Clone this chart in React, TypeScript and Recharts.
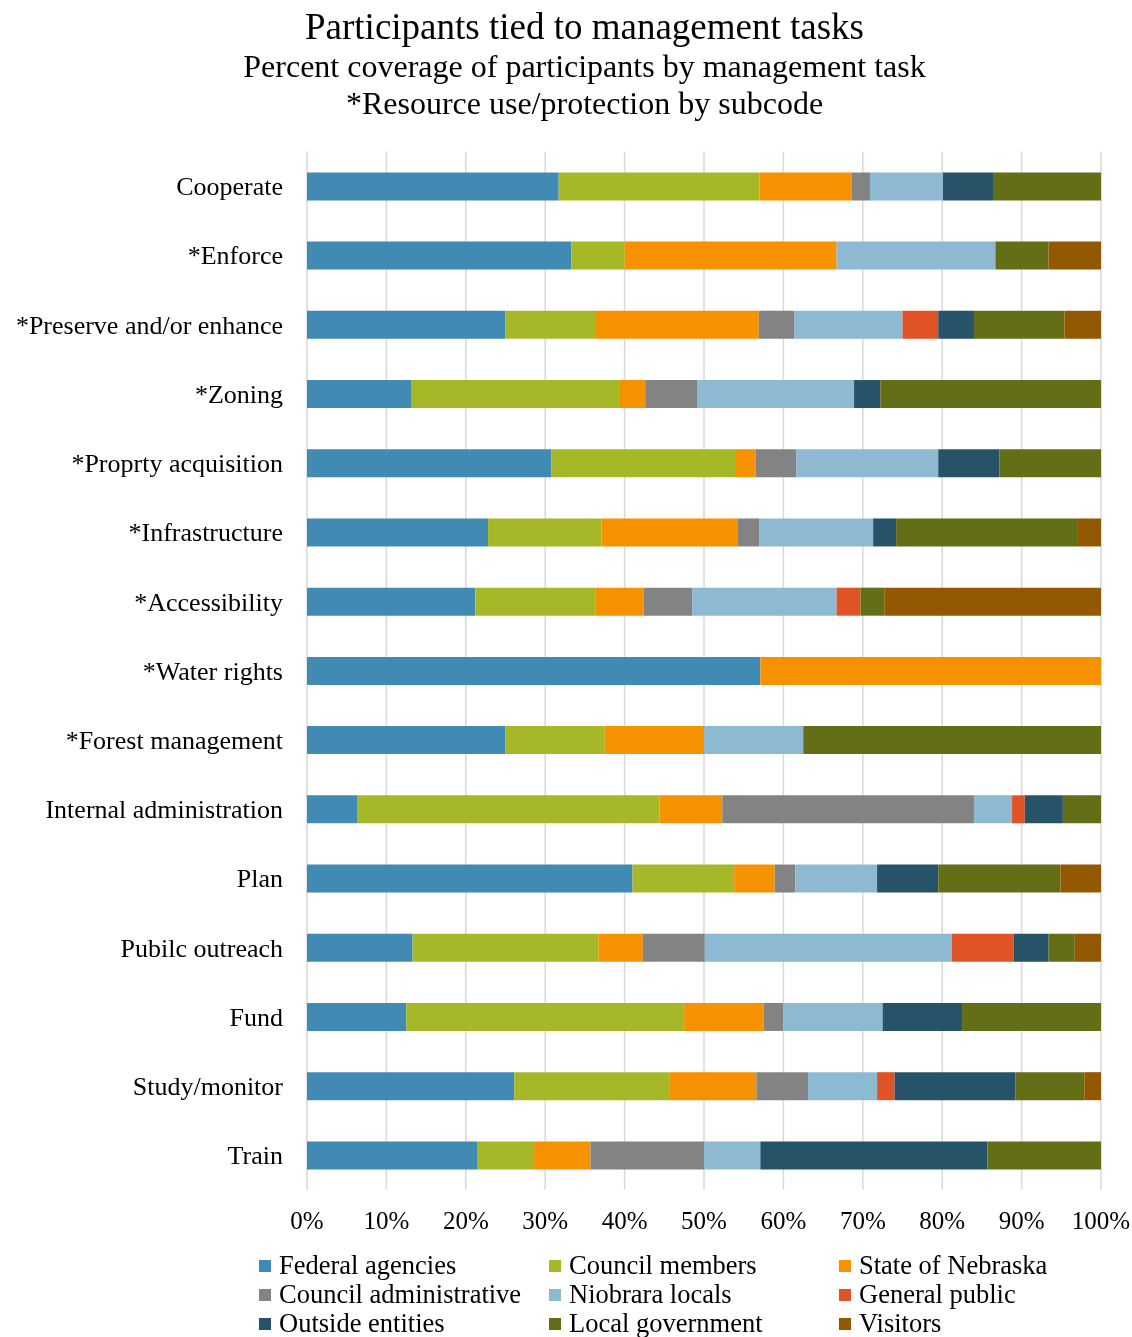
import React from "react";
import { BarChart, Bar, XAxis, YAxis, CartesianGrid } from "recharts";

const TASKS = [
  "Cooperate",
  "*Enforce",
  "*Preserve and/or enhance",
  "*Zoning",
  "*Proprty acquisition",
  "*Infrastructure",
  "*Accessibility",
  "*Water rights",
  "*Forest management",
  "Internal administration",
  "Plan",
  "Pubilc outreach",
  "Fund",
  "Study/monitor",
  "Train",
];

// percent of participants per task
const FEDERAL = [31.7, 33.3, 25.0, 13.1, 30.8, 22.8, 21.2, 57.1, 25.0, 6.3, 41.0, 13.3, 12.5, 26.1, 21.5];
const COUNCIL_MEMBERS = [25.3, 6.7, 11.4, 26.2, 23.1, 14.3, 15.1, 0, 12.5, 38.1, 12.8, 23.4, 35.0, 19.6, 7.1];
const NEBRASKA = [11.6, 26.7, 20.5, 3.3, 2.6, 17.1, 6.1, 42.9, 12.5, 7.9, 5.1, 5.6, 10.0, 10.9, 7.1];
const COUNCIL_ADMIN = [2.3, 0, 4.5, 6.6, 5.1, 2.8, 6.1, 0, 0, 31.7, 2.6, 7.8, 2.5, 6.5, 14.3];
const NIOBRARA = [9.2, 20.0, 13.6, 19.7, 17.9, 14.3, 18.2, 0, 12.5, 4.8, 10.3, 31.1, 12.5, 8.7, 7.1];
const GENERAL_PUBLIC = [0, 0, 4.5, 0, 0, 0, 3.0, 0, 0, 1.6, 0, 7.8, 0, 2.2, 0];
const OUTSIDE = [6.3, 0, 4.5, 3.3, 7.7, 2.9, 0, 0, 0, 4.8, 7.7, 4.4, 10.0, 15.2, 28.6];
const LOCAL_GOV = [13.6, 6.7, 11.4, 27.8, 12.8, 22.9, 3.0, 0, 37.5, 4.8, 15.4, 3.3, 17.5, 8.7, 14.3];
const VISITORS = [0, 6.7, 4.6, 0, 0, 2.9, 27.3, 0, 0, 0, 5.1, 3.3, 0, 2.1, 0];

const X_TICKS = [0, 10, 20, 30, 40, 50, 60, 70, 80, 90, 100];

const SERIES = [
  { key: "federal", name: "Federal agencies", color: "#418AB3", values: FEDERAL },
  { key: "council", name: "Council members", color: "#A6B727", values: COUNCIL_MEMBERS },
  { key: "nebraska", name: "State of Nebraska", color: "#F69200", values: NEBRASKA },
  { key: "admin", name: "Council administrative", color: "#838383", values: COUNCIL_ADMIN },
  { key: "niobrara", name: "Niobrara locals", color: "#8DB9D3", values: NIOBRARA },
  { key: "public", name: "General public", color: "#DF5327", values: GENERAL_PUBLIC },
  { key: "outside", name: "Outside entities", color: "#275369", values: OUTSIDE },
  { key: "localgov", name: "Local government", color: "#646E17", values: LOCAL_GOV },
  { key: "visitors", name: "Visitors", color: "#945800", values: VISITORS },
];

const data = TASKS.map((task, i) => {
  const row: Record<string, string | number> = { task };
  SERIES.forEach((s) => {
    row[s.key] = s.values[i];
  });
  return row;
});

const FONT = '"Liberation Serif", "Times New Roman", serif';

const LEGEND_COLS = [251, 541, 831];
const LEGEND_ROWS = [1266, 1295, 1324]; // text baselines
const LEGEND_SIZE = 26.5;

function Title({ text, size, baseline }: { text: string; size: number; baseline: number }) {
  return (
    <div
      style={{
        position: "absolute",
        left: 576.5,
        top: baseline - 0.7875 * size,
        transform: "translateX(-50%)",
        whiteSpace: "nowrap",
        fontSize: size,
        lineHeight: `${size * 0.9}px`,
        color: "#000",
      }}
    >
      {text}
    </div>
  );
}

export default function App() {
  return (
    <div
      style={{
        position: "fixed",
        left: 8,
        top: 8,
        width: 1124,
        height: 1329,
        fontFamily: FONT,
        background: "#fff",
      }}
    >
      <Title text="Participants tied to management tasks" size={37} baseline={31} />
      <Title text="Percent coverage of participants by management task" size={32} baseline={69} />
      <Title text="*Resource use/protection by subcode" size={32} baseline={106} />

      <div style={{ position: "absolute", left: 0, top: 0 }}>
        <BarChart
          width={1124}
          height={1230}
          data={data}
          layout="vertical"
          barSize={28}
          margin={{ top: 143.4, right: 31, bottom: 8.4, left: 0 }}
        >
          <CartesianGrid horizontal={false} stroke="#d9d9d9" strokeWidth={1.5} />
          <XAxis
            type="number"
            domain={[0, 100]}
            ticks={X_TICKS}
            allowDataOverflow
            tickFormatter={(v) => `${v}%`}
            axisLine={false}
            tickLine={false}
            tickSize={0}
            tickMargin={22}
            height={40}
            tick={{ fontSize: 25, fill: "#000", fontFamily: FONT }}
          />
          <YAxis
            type="category"
            dataKey="task"
            width={299}
            interval={0}
            axisLine={false}
            tickLine={false}
            tickSize={0}
            tickMargin={24}
            tick={{ fontSize: 26, fill: "#000", fontFamily: FONT }}
          />
          {SERIES.map((s) => (
            <Bar
              key={s.key}
              dataKey={s.key}
              name={s.name}
              stackId="a"
              fill={s.color}
              isAnimationActive={false}
            />
          ))}
        </BarChart>
      </div>

      {SERIES.map((s, i) => {
        const x = LEGEND_COLS[i % 3];
        const base = LEGEND_ROWS[Math.floor(i / 3)];
        return (
          <React.Fragment key={s.key}>
            <div
              style={{
                position: "absolute",
                left: x,
                top: base - 14,
                width: 12,
                height: 12,
                background: s.color,
              }}
            />
            <div
              style={{
                position: "absolute",
                left: x + 20,
                top: base - 0.8375 * LEGEND_SIZE,
                fontSize: LEGEND_SIZE,
                lineHeight: `${LEGEND_SIZE}px`,
                whiteSpace: "nowrap",
                color: "#000",
              }}
            >
              {s.name}
            </div>
          </React.Fragment>
        );
      })}
    </div>
  );
}
